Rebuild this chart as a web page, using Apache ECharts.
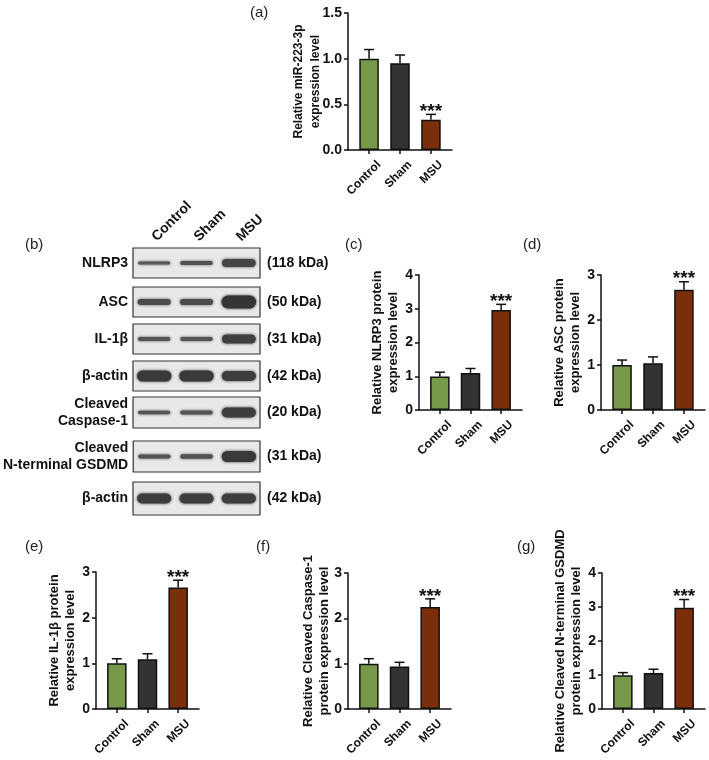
<!DOCTYPE html>
<html><head><meta charset="utf-8">
<script src="https://cdn.jsdelivr.net/npm/echarts@6/dist/echarts.min.js"></script>
<style>html,body{margin:0;padding:0;background:#fff}#c{width:709px;height:760px}</style>
</head><body><div id="c"></div>
<script>
// ---------- data ----------
const groups = ['Control', 'Sham', 'MSU'];
const sigMarks = ['', '', '***'];

const miR223 = [1.00, 0.95, 0.33];
const miR223Err = [0.10, 0.09, 0.06];
const nlrp3 = [0.99, 1.10, 2.96];
const nlrp3Err = [0.13, 0.13, 0.17];
const asc = [1.00, 1.04, 2.67];
const ascErr = [0.11, 0.14, 0.18];
const il1b = [1.00, 1.09, 2.66];
const il1bErr = [0.10, 0.12, 0.16];
const casp1 = [1.00, 0.94, 2.25];
const casp1Err = [0.11, 0.09, 0.18];
const gsdmd = [0.99, 1.06, 2.98];
const gsdmdErr = [0.08, 0.11, 0.24];

const blotRows = ['NLRP3', 'ASC', 'IL-1β', 'β-actin', 'Cleaved\nCaspase-1', 'Cleaved\nN-terminal GSDMD', 'β-actin'];
const blotKda = ['(118 kDa)', '(50 kDa)', '(31 kDa)', '(42 kDa)', '(20 kDa)', '(31 kDa)', '(42 kDa)'];
// relative band density per lane (Control, Sham, MSU)
const bandNLRP3 = [3, 4, 8];
const bandASC = [6, 6, 13];
const bandIL1b = [4, 4, 9];
const bandActin1 = [11, 11, 10];
const bandCasp1 = [3.5, 4, 10];
const bandGSDMD = [4, 4.5, 11];
const bandActin2 = [10, 10, 10];
const blotBands = [bandNLRP3, bandASC, bandIL1b, bandActin1, bandCasp1, bandGSDMD, bandActin2];

// ---------- style / layout ----------
const FONT = '"Liberation Sans", Arial, Helvetica, sans-serif';
const INK = '#111';
const groupColors = ['#78994a', '#333333', '#7a2e0a'];

const panels = [
  {label: '(a)', vals: miR223, errs: miR223Err, max: 1.5, step: 0.5, dec: 1, title: 'Relative miR-223-3p\nexpression level', fs: 12, lh: 17, gap: 24, grid: {left: 348, top: 13, width: 104, height: 137}, lp: [250, 5]},
  {label: '(c)', vals: nlrp3, errs: nlrp3Err, max: 4, step: 1, dec: 0, title: 'Relative NLRP3 protein\nexpression level', fs: 13, lh: 16, gap: 18, grid: {left: 419, top: 275, width: 103, height: 135}, lp: [345, 237]},
  {label: '(d)', vals: asc, errs: ascErr, max: 3, step: 1, dec: 0, title: 'Relative ASC protein\nexpression level', fs: 13, lh: 16, gap: 18, grid: {left: 601, top: 275, width: 104, height: 135}, lp: [523, 237]},
  {label: '(e)', vals: il1b, errs: il1bErr, max: 3, step: 1, dec: 0, title: 'Relative IL-1β protein\nexpression level', fs: 13, lh: 16, gap: 18, grid: {left: 96, top: 572, width: 103, height: 137}, lp: [25, 539]},
  {label: '(f)', vals: casp1, errs: casp1Err, max: 3, step: 1, dec: 0, title: 'Relative Cleaved Caspase-1\nprotein expression level', fs: 13, lh: 16, gap: 16, grid: {left: 348, top: 573, width: 103, height: 136}, lp: [256, 539]},
  {label: '(g)', vals: gsdmd, errs: gsdmdErr, max: 4, step: 1, dec: 0, title: 'Relative Cleaved N-terminal GSDMD\nprotein expression level', fs: 13, lh: 16, gap: 18, grid: {left: 602, top: 573, width: 103, height: 136}, lp: [517, 539]}
];

const blotLayout = {left: 133, width: 127, tops: [248, 287, 324, 361, 397, 441, 482], heights: [30, 30, 30, 30, 31, 31, 33]};

const grids = [], xAxes = [], yAxes = [], series = [], graphics = [];

function errRender(params, api) {
  const x = api.value(0), v = api.value(1), e = api.value(2);
  const p0 = api.coord([x, v]);
  const p1 = api.coord([x, v + e]);
  const cap = 5;
  const st = {stroke: INK, lineWidth: 1.5};
  const ch = [
    {type: 'line', shape: {x1: p0[0], y1: p0[1], x2: p1[0], y2: p1[1]}, style: st},
    {type: 'line', shape: {x1: p1[0] - cap, y1: p1[1], x2: p1[0] + cap, y2: p1[1]}, style: st}
  ];
  const s = sigMarks[params.dataIndex];
  if (s) {
    ch.push({type: 'text', x: p1[0], y: p1[1] + 7, style: {text: s, fill: INK, font: 'bold 19px ' + FONT, align: 'center', verticalAlign: 'bottom'}});
  }
  return {type: 'group', children: ch};
}

panels.forEach((p, k) => {
  grids.push(Object.assign({containLabel: false}, p.grid));
  xAxes.push({
    gridIndex: k, type: 'value', min: -0.68, max: 2.68,
    axisLine: {show: true, onZero: false, lineStyle: {color: INK, width: 1.5}},
    axisTick: {show: true, customValues: [0, 1, 2], length: 4, lineStyle: {color: INK, width: 1.5}},
    axisLabel: {show: true, customValues: [0, 1, 2], formatter: v => groups[Math.round(v)], rotate: 45,
      verticalAlign: 'top', padding: [8, 0, 0, 0], margin: 3,
      fontSize: 12, fontWeight: 'bold', color: INK, fontFamily: FONT},
    splitLine: {show: false}
  });
  yAxes.push({
    gridIndex: k, type: 'value', min: 0, max: p.max, interval: p.step,
    axisLine: {show: true, onZero: false, lineStyle: {color: INK, width: 1.5}},
    axisTick: {show: true, length: 4, lineStyle: {color: INK, width: 1.5}},
    axisLabel: {fontSize: 14, fontWeight: 'bold', color: INK, fontFamily: FONT, margin: 6, formatter: v => v.toFixed(p.dec)},
    splitLine: {show: false},
    name: p.title, nameLocation: 'middle', nameRotate: 90, nameGap: p.gap, nameMoveOverlap: false,
    nameTextStyle: {fontSize: p.fs, fontWeight: 'bold', color: INK, fontFamily: FONT, lineHeight: p.lh, align: 'center'}
  });
  series.push({
    type: 'bar', xAxisIndex: k, yAxisIndex: k, barWidth: 19.5, z: 2,
    data: p.vals.map((v, i) => ({value: [i, v], itemStyle: {color: groupColors[i], borderColor: INK, borderWidth: 1.5}})),
    silent: true, animation: false
  });
  series.push({
    type: 'custom', xAxisIndex: k, yAxisIndex: k, z: 3, renderItem: errRender,
    data: p.vals.map((v, i) => [i, v, p.errs[i]]), silent: true, animation: false
  });
  graphics.push({type: 'text', left: p.lp[0], top: p.lp[1], style: {text: p.label, font: '15px ' + FONT, fill: '#222'}});
});
graphics.push({type: 'text', left: 25, top: 237, style: {text: '(b)', font: '15px ' + FONT, fill: '#222'}});

function bandRender(params, api) {
  const c = api.coord([api.value(0), api.value(1)]);
  const d = api.value(2);
  const t = Math.min(1, d / 12);
  const w = api.size([1, 0])[0] * (0.74 + 0.08 * t);
  const h = d;
  const g = Math.round(98 - 45 * t);
  const col = 'rgb(' + g + ',' + g + ',' + g + ')';
  return {type: 'rect', shape: {x: c[0] - w / 2, y: c[1] - h / 2, width: w, height: h, r: h / 2},
    style: {fill: col, shadowBlur: 3, shadowColor: col}};
}

blotRows.forEach((name, r) => {
  const gi = grids.length;
  grids.push({left: blotLayout.left, width: blotLayout.width, top: blotLayout.tops[r], height: blotLayout.heights[r],
    show: true, backgroundColor: '#e8e8e8', borderColor: '#333', borderWidth: 1.2, containLabel: false});
  xAxes.push({
    gridIndex: gi, type: 'category', data: groups, position: 'top',
    axisLine: {show: false}, axisTick: {show: false},
    axisLabel: {show: r === 0, rotate: -45, margin: 9, align: 'left', verticalAlign: 'middle', fontSize: 14, fontWeight: 'bold', color: INK, fontFamily: FONT},
    splitLine: {show: false}
  });
  const yl = yAxes.length;
  yAxes.push({
    gridIndex: gi, type: 'category', data: [name], position: 'left',
    axisLine: {show: false}, axisTick: {show: false}, splitLine: {show: false},
    axisLabel: {margin: 5, fontSize: 14, fontWeight: 'bold', color: INK, fontFamily: FONT, lineHeight: 17, align: 'right'}
  });
  yAxes.push({
    gridIndex: gi, type: 'category', data: [blotKda[r]], position: 'right',
    axisLine: {show: false}, axisTick: {show: false}, splitLine: {show: false},
    axisLabel: {margin: 7, fontSize: 14, fontWeight: 'bold', color: INK, fontFamily: FONT}
  });
  series.push({
    type: 'custom', xAxisIndex: gi, yAxisIndex: yl, renderItem: bandRender,
    data: blotBands[r].map((d, j) => [j, 0, d]), silent: true, animation: false
  });
});

const chart = echarts.init(document.getElementById('c'), null, {renderer: 'canvas', width: 709, height: 760});
chart.setOption({
  backgroundColor: '#fff',
  animation: false,
  textStyle: {fontFamily: FONT},
  grid: grids, xAxis: xAxes, yAxis: yAxes, series: series, graphic: graphics
});
</script></body></html>
